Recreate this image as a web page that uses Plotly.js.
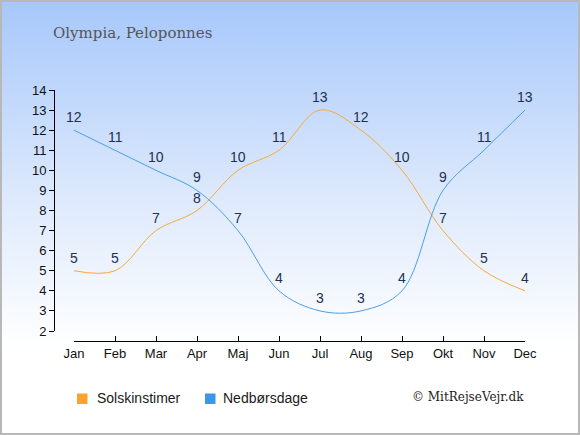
<!DOCTYPE html>
<html>
<head>
<meta charset="utf-8">
<script src="https://cdn.plot.ly/plotly-3.0.1.min.js"></script>
<style>
  html, body { margin: 0; padding: 0; }
  #wrap {
    width: 580px; height: 435px; box-sizing: border-box;
    border: 2px solid #b8b8b8;
    background: linear-gradient(to bottom, #a7c8fb 0%, #dde9fc 45%, #ffffff 80%, #ffffff 100%);
    position: relative;
  }
  #chart { position: absolute; left: -2px; top: -2px; width: 580px; height: 435px; }
</style>
</head>
<body>
<div id="wrap"><div id="chart"></div></div>
<script>
const months = ["Jan","Feb","Mar","Apr","Maj","Jun","Jul","Aug","Sep","Okt","Nov","Dec"];
const sunHours = [5,5,7,8,10,11,13,12,10,7,5,4];
const rainDays = [12,11,10,9,7,4,3,3,4,9,11,13];
const seriesNames = ["Solskinstimer","Nedbørsdage"];
const seriesColors = ["#fba22f","#3b97e8"];
const lineColors = ["#f9a83a","#4a9fe8"];
const yTicks = [2,3,4,5,6,7,8,9,10,11,12,13,14];

const W = 580, H = 435, ML = 54, MR = 55, MT = 90, MB = 94;
const PW = W - ML - MR, PH = H - MT - MB;
const px = v => (v - ML) / PW;      // pixel -> paper x
const py = v => (H - MB - v) / PH;  // pixel -> paper y

const labelFont = {family: "Liberation Sans, Arial, sans-serif", size: 14, color: "#22304f"};
const sans = "Liberation Sans, Arial, sans-serif";

function lineTrace(vals, i) {
  return {
    x: months, y: vals, type: "scatter", mode: "lines",
    line: {color: lineColors[i], width: 1, shape: "spline", smoothing: 1},
    showlegend: false, hoverinfo: "skip"
  };
}
const data = [lineTrace(sunHours, 0), lineTrace(rainDays, 1)];

function valueLabels(vals) {
  return vals.map((v, k) => ({
    x: months[k], y: v, xref: "x", yref: "y", text: String(v),
    showarrow: false, yshift: 13, xanchor: "center", yanchor: "middle",
    font: labelFont
  }));
}

const legendX = [[77, 95], [205, 221]];
const shapes = legendX.map((p, i) => ({
  type: "rect", xref: "paper", yref: "paper",
  x0: px(p[0]), x1: px(p[0] + 10.5), y0: py(404), y1: py(393.5),
  fillcolor: seriesColors[i], line: {width: 0}
}));
const legendText = legendX.map((p, i) => ({
  text: seriesNames[i], xref: "paper", yref: "paper", x: px(p[1]), y: py(398),
  xanchor: "left", yanchor: "middle", showarrow: false,
  font: {family: sans, size: 14, color: "#1a1a1a"}
}));

const layout = {
  width: W, height: H,
  paper_bgcolor: "rgba(0,0,0,0)", plot_bgcolor: "rgba(0,0,0,0)",
  margin: {l: ML, r: MR, t: MT, b: MB},
  showlegend: false,
  xaxis: {
    type: "category", categoryorder: "array", categoryarray: months,
    range: [0, 11], domain: [20/PW, 1], anchor: "free", position: 0,
    showline: true, linecolor: "#000", linewidth: 1,
    ticks: "inside", ticklen: 5, tickcolor: "#000",
    showgrid: false, zeroline: false, fixedrange: true,
    tickfont: {family: sans, size: 13, color: "#111"}
  },
  yaxis: {
    range: [2, 14], domain: [10/PH, 1], anchor: "free", position: 0,
    tickvals: yTicks, ticktext: yTicks.map(String),
    showline: true, linecolor: "#000", linewidth: 1,
    ticks: "outside", ticklen: 5, tickcolor: "#000",
    showgrid: false, zeroline: false, fixedrange: true,
    tickfont: {family: sans, size: 13, color: "#111"}
  },
  shapes: shapes,
  annotations: [
    {text: "Olympia, Peloponnes", xref: "paper", yref: "paper", x: px(51), y: py(33),
     xanchor: "left", yanchor: "middle", showarrow: false,
     font: {family: "DejaVu Serif, Georgia, serif", size: 15, color: "#555"}},
    {text: "© MitRejseVejr.dk", xref: "paper", yref: "paper", x: px(526), y: py(397),
     xanchor: "right", yanchor: "middle", showarrow: false,
     font: {family: "DejaVu Serif, Georgia, serif", size: 12, color: "#222"}}
  ].concat(legendText, valueLabels(sunHours), valueLabels(rainDays))
};

Plotly.newPlot("chart", data, layout, {displayModeBar: false, staticPlot: true});
</script>
</body>
</html>
